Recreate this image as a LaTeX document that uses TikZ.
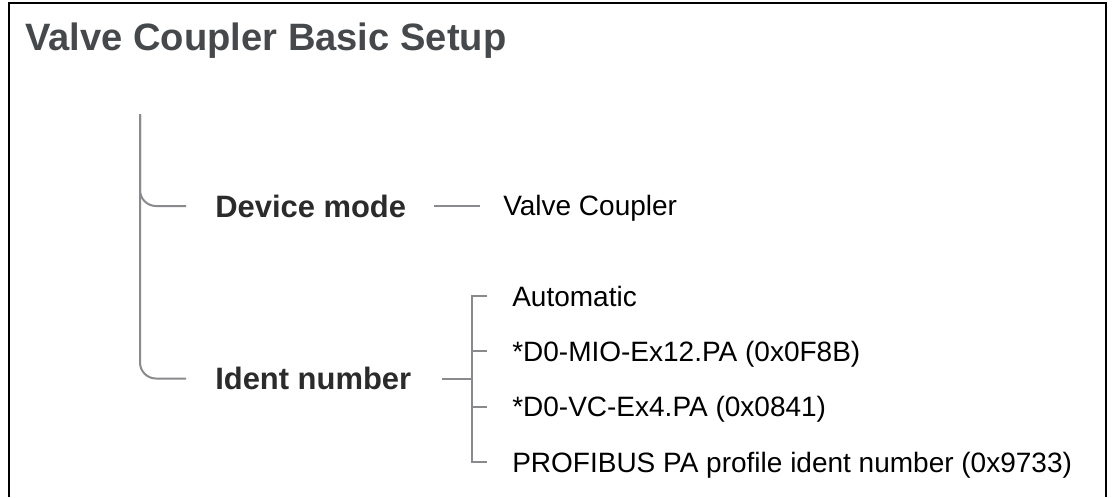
\documentclass[tikz,border=0pt]{standalone}
\usepackage{fontspec}
\setmainfont{Liberation Sans}
\usepackage{tikz}
\usepackage{xcolor}
\usetikzlibrary{calc}
\definecolor{titlegray}{HTML}{46494C}
\definecolor{headgray}{HTML}{2B2B2B}
\definecolor{linegray}{HTML}{8A8A8E}

\begin{document}
\begin{tikzpicture} [
        x = 0.75pt, y = -0.75pt,
        every node/.style = { inner sep = 0, anchor = west },
        title/.style = { anchor = base west, text = titlegray, font = \fontsize{28.6}{30}\selectfont\bfseries },
        head/.style = { text = headgray, text height = 16.5pt, text depth = 0pt, font = \fontsize{23.2}{25}\selectfont\bfseries },
        item/.style = { text = black, text height = 15pt, text depth = 0pt, font = \fontsize{21}{23}\selectfont },
        link/.style = { draw = linegray, line width = 1.5pt }
        ]
        \useasboundingbox (0,0) rectangle (1112,497);
        \draw [line width = 1.5pt] (9,497) |- (1105.7,2.7) -- (1105.7,497);

        \node [title] (title) at (25,50) {Valve Coupler Basic Setup};

        % tree
        \coordinate (top) at (140,114);
        \node [head] (dev) at (215,206) {Device mode};
        \node [head] (ident) at (215,378.5) {Ident number};
        \node [item] (valve) at (503,205) {Valve Coupler};
        \coordinate (brk) at (472,379);
        \node [item] (o1) at (512,296) {Automatic};
        \node [item] (o2) at (512,351) {*D0-MIO-Ex12.PA (0x0F8B)};
        \node [item] (o3) at (512,406.5) {*D0-VC-Ex4.PA (0x0841)};
        \node [item] (o4) at (512,462) {PROFIBUS PA profile ident number (0x9733)};

        \draw [link, rounded corners = 12pt] (top) |- ($(dev.west)+(-29,0)$);
        \draw [link, rounded corners = 12pt] (top) |- ($(ident.west)+(-29,0)$);
        \draw [link] ($(dev.east)+(28,0)$) -- ($(dev.east -| valve.west)+(-23,0)$);
        \draw [link] ($(ident.east)+(31,0)$) -- (ident.east -| brk);
        \draw [link] ($(o1.west)+(-25,0)$) -| (o4.west -| brk) -- ($(o4.west)+(-25,0)$);
        \foreach \o in {o2, o3}
            \draw [link] (\o.west -| brk) -- ($(\o.west)+(-25,0)$);
\end{tikzpicture}
\end{document}
